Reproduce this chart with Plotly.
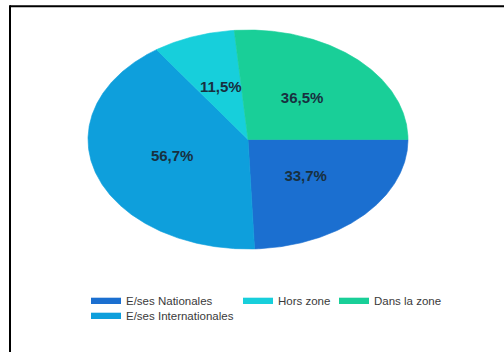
import numpy as np
import plotly.graph_objects as go

# ---- data ----
categories = ["E/ses Nationales", "E/ses Internationales", "Hors zone", "Dans la zone"]
values = [33.7, 56.7, 11.5, 36.5]

# ---- styles ----
colors = ["#1b6fd0", "#0e9fdc", "#17cfdb", "#19cf98"]
legend_ids = ["legend", "legend4", "legend2", "legend3"]
start_angle = 90.0  # degrees clockwise from 12 o'clock
W, H = 504, 352
cx, cy, rx, ry = 248.0, 139.5, 160.0, 109.5

fig = go.Figure()
total = float(sum(values))
ang = start_angle
mids = []
for cat, v, col, lg in zip(categories, values, colors, legend_ids):
    span = v / total * 360.0
    t = np.deg2rad(np.linspace(ang, ang + span, max(int(span * 2), 3)))
    xs = np.concatenate([[0.0], np.sin(t), [0.0]])
    ys = np.concatenate([[0.0], np.cos(t), [0.0]])
    fig.add_trace(go.Scatter(
        x=xs, y=ys, mode="lines", fill="toself", fillcolor=col,
        line=dict(color=col, width=0.6), name=cat, legend=lg,
        hoverinfo="skip",
    ))
    mids.append(np.deg2rad(ang + span / 2))
    ang += span

mids = np.array(mids)
fig.add_trace(go.Scatter(
    x=0.5 * np.sin(mids), y=0.5 * np.cos(mids), mode="text",
    customdata=values, texttemplate="%{customdata:.1f}%",
    textfont=dict(family="Liberation Sans, Arial", size=15, color="#18303f", weight="bold"),
    showlegend=False, hoverinfo="skip",
))

fig.update_xaxes(range=[-cx / rx, (W - cx) / rx], visible=False, domain=[0, 1], fixedrange=True)
fig.update_yaxes(range=[-(H - cy) / ry, cy / ry], visible=False, domain=[0, 1], fixedrange=True)

leg_font = dict(family="Liberation Sans, Arial", size=11.5, color="#3a3a3a")
def leg(xpx, ypx):
    return dict(x=xpx / W, y=1 - ypx / H, xanchor="left", yanchor="middle",
                orientation="v", font=leg_font, bgcolor="rgba(0,0,0,0)", borderwidth=0)

fig.update_layout(
    width=W, height=H,
    margin=dict(l=0, r=0, t=0, b=0),
    paper_bgcolor="white", plot_bgcolor="white",
    separators=", ",
    hovermode=False,
    legend=leg(86, 300),
    legend2=leg(238, 300),
    legend3=leg(334, 300),
    legend4=leg(86, 315),
    shapes=[
        dict(type="line", xref="paper", yref="paper", x0=10 / W, x1=1.0,
             y0=1 - 6.3 / H, y1=1 - 6.3 / H, line=dict(color="black", width=2)),
        dict(type="line", xref="paper", yref="paper", x0=10 / W, x1=10 / W,
             y0=1 - 5.3 / H, y1=0.0, line=dict(color="black", width=2)),
    ],
)

fig.write_html("out.html", config={"displayModeBar": False},
               post_script="document.body.style.margin='0';")
